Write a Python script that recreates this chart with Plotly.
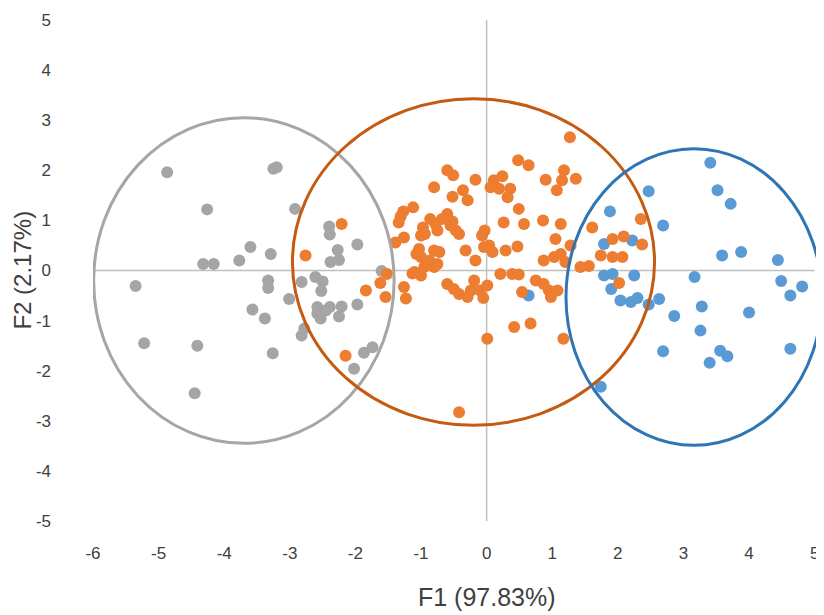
import plotly.graph_objects as go

# ---- data ----
gray_x = [-4.87, -3.25, -3.20, -4.26, -2.92, -2.40, -2.39, -1.97, -2.27, -2.38, -2.25,
          -3.60, -3.29, -3.77, -4.32, -4.16, -5.35, -3.33, -3.33, -3.01, -2.61, -2.50,
          -2.52, -1.60, -3.57, -3.38, -2.58, -2.45, -2.39, -2.21, -2.25, -2.53, -2.58,
          -1.97, -2.82, -2.78, -5.22, -4.41, -3.26, -1.87, -1.74, -2.02, -4.45, -2.82]
gray_y = [1.96, 2.03, 2.06, 1.22, 1.23, 0.88, 0.72, 0.52, 0.41, 0.17, 0.21,
          0.47, 0.33, 0.20, 0.13, 0.13, -0.31, -0.20, -0.35, -0.57, -0.13, -0.22,
          -0.41, -0.01, -0.78, -0.96, -0.73, -0.80, -0.73, -0.72, -0.92, -0.96, -0.86,
          -0.68, -1.30, -1.16, -1.45, -1.50, -1.65, -1.64, -1.53, -1.96, -2.45, -0.23]

blue_x = [3.41, 3.52, 3.72, 2.47, 1.88, 2.69, 1.79, 2.22, 3.59, 3.88, 4.44, 3.17,
          4.49, 4.81, 4.63, 1.79, 1.92, 2.25, 1.90, 2.04, 2.20, 2.30, 2.47, 2.63,
          3.28, 2.86, 4.00, 3.26, 2.69, 3.56, 3.67, 3.40, 4.63, 1.74, 0.64]
blue_y = [2.15, 1.60, 1.33, 1.58, 1.18, 0.90, 0.53, 0.60, 0.30, 0.37, 0.21, -0.13,
          -0.21, -0.32, -0.50, -0.10, -0.07, -0.10, -0.37, -0.60, -0.63, -0.55, -0.68, -0.57,
          -0.72, -0.91, -0.84, -1.20, -1.61, -1.60, -1.71, -1.84, -1.56, -2.32, -0.50]

orange_x = [1.27, 0.48, 0.64, -0.60, -0.51, -0.17, 0.11, 0.24, 0.06, 0.19, 0.36, 0.32,
            1.18, 1.15, 1.07, 1.36, 0.90, -0.80, -0.36, -0.52, -0.29, 0.49, -1.12, -1.27,
            -1.31, -1.34, -2.21, -0.60, -0.68, -0.86, -0.52, -0.78, -0.97, -0.55, -0.47,
            -0.42, -0.94, -1.00, -0.75, 0.26, 0.57, 0.86, 1.13, -0.03, -0.07, 1.61,
            -1.39, -1.26, -1.03, -1.07, -1.00, -0.80, -0.72, -0.87, -0.75, -0.80, -0.95,
            -1.10, -1.00, -1.13, -0.32, -0.17, -0.04, 0.04, 0.09, 0.29, 0.47, 1.05, 1.28,
            0.87, 1.03, 1.13, 1.20, 1.43, 1.56, 1.74, -2.76, 0.21, 0.39, 0.49, -1.62,
            -1.52, -1.84, -1.54, -1.26, -1.23, -0.60, -0.50, -0.42, -0.29, -0.24, -0.19,
            -0.10, 0.01, -0.05, 0.75, 0.87, 0.95, 1.08, 0.98, 0.54, 0.42, 0.67, 0.01,
            1.17, -2.15, -0.42, 2.35, 1.92, 2.09, 2.37, 1.92, 2.07, 2.02]
orange_y = [2.66, 2.20, 2.10, 2.00, 1.90, 1.81, 1.80, 1.88, 1.66, 1.63, 1.63, 1.46,
            2.00, 1.80, 1.60, 1.83, 1.81, 1.66, 1.60, 1.47, 1.40, 1.23, 1.26, 1.18,
            1.08, 0.96, 0.93, 1.13, 1.03, 1.03, 0.98, 0.93, 0.86, 0.90, 0.80,
            0.73, 0.73, 0.70, 0.80, 0.96, 0.93, 1.00, 0.93, 0.80, 0.70, 0.86,
            0.56, 0.66, 0.43, 0.33, 0.27, 0.40, 0.37, 0.20, 0.13, 0.07, 0.07,
            -0.03, -0.10, -0.06, 0.40, 0.20, 0.47, 0.50, 0.37, 0.40, 0.48, 0.63, 0.50,
            0.20, 0.27, 0.33, 0.17, 0.07, 0.09, 0.30, 0.30, -0.07, -0.07, -0.08, -0.25,
            -0.07, -0.40, -0.53, -0.33, -0.56, -0.27, -0.37, -0.47, -0.53, -0.40, -0.20,
            -0.40, -0.30, -0.55, -0.20, -0.27, -0.40, -0.40, -0.53, -0.43, -1.13, -1.06, -1.36,
            -1.36, -1.70, -2.83, 1.03, 0.63, 0.68, 0.52, 0.27, 0.27, -0.25]

# confidence ellipses: center x, center y, half-width, half-height
ellipse_names = ["gray", "orange", "blue"]
ellipse_cx = [-3.70, -0.20, 3.16]
ellipse_cy = [-0.20, 0.17, -0.53]
ellipse_rx = [2.29, 2.76, 1.95]
ellipse_ry = [3.25, 3.26, 2.96]
ellipse_colors = ["#A6A6A6", "#C55A11", "#2E75B6"]

x_ticks = [-6, -5, -4, -3, -2, -1, 0, 1, 2, 3, 4, 5]
x_tick_labels = ["-6", "-5", "-4", "-3", "-2", "-1", "0", "1", "2", "3", "4", "5"]
y_ticks = [-5, -4, -3, -2, -1, 0, 1, 2, 3, 4, 5]
y_tick_labels = ["-5", "-4", "-3", "-2", "-1", "0", "1", "2", "3", "4", "5"]

x_title = "F1 (97.83%)"
y_title = "F2 (2.17%)"

fig = go.Figure()

# axis lines crossing at the origin
fig.add_shape(type="line", xref="x", yref="y", x0=min(x_ticks), x1=max(x_ticks), y0=0, y1=0,
              line=dict(color="#BFBFBF", width=1.5), layer="below")
fig.add_shape(type="line", xref="x", yref="y", x0=0, x1=0, y0=min(y_ticks), y1=max(y_ticks),
              line=dict(color="#BFBFBF", width=1.5), layer="below")

marker_common = dict(size=12, line=dict(width=0))
fig.add_trace(go.Scatter(x=gray_x, y=gray_y, mode="markers", name="Group 1",
                         marker=dict(color="#A5A5A5", **marker_common)))
fig.add_trace(go.Scatter(x=blue_x, y=blue_y, mode="markers", name="Group 3",
                         marker=dict(color="#5B9BD5", **marker_common)))
fig.add_trace(go.Scatter(x=orange_x, y=orange_y, mode="markers", name="Group 2",
                         marker=dict(color="#ED7D31", **marker_common)))

for cx, cy, rx, ry, col in zip(ellipse_cx, ellipse_cy, ellipse_rx, ellipse_ry, ellipse_colors):
    fig.add_shape(type="circle", xref="x", yref="y",
                  x0=cx - rx, x1=cx + rx, y0=cy - ry, y1=cy + ry,
                  line=dict(color=col, width=3), layer="above")

# axis titles placed as in the reference
fig.add_annotation(text=x_title, xref="paper", yref="paper", x=0.539, y=-0.152,
                   xanchor="center", yanchor="middle", showarrow=False,
                   font=dict(size=25, color="#404040"))
fig.add_annotation(text=y_title, xref="paper", yref="paper", x=-0.097, y=0.5,
                   xanchor="center", yanchor="middle", showarrow=False, textangle=-90,
                   font=dict(size=24, color="#404040"))

font_family = "Liberation Sans, Arial, sans-serif"
fig.update_layout(
    width=824, height=615,
    margin=dict(l=85, r=8, t=12, b=102, autoexpand=False),
    paper_bgcolor="white", plot_bgcolor="white",
    showlegend=False,
    font=dict(family=font_family, color="#404040"),
    xaxis=dict(range=[-6, 5.143], tickvals=x_ticks, ticktext=x_tick_labels,
               showgrid=False, zeroline=False, automargin=False,
               showline=False, ticks="", tickfont=dict(size=17, color="#404040"),
               ticklabelstandoff=20),
    yaxis=dict(range=[-5, 5], tickvals=y_ticks, ticktext=y_tick_labels,
               showgrid=False, zeroline=False, automargin=False,
               showline=False, ticks="", tickfont=dict(size=17, color="#404040"),
               ticklabelstandoff=41),
)

fig.write_html("out.html")
